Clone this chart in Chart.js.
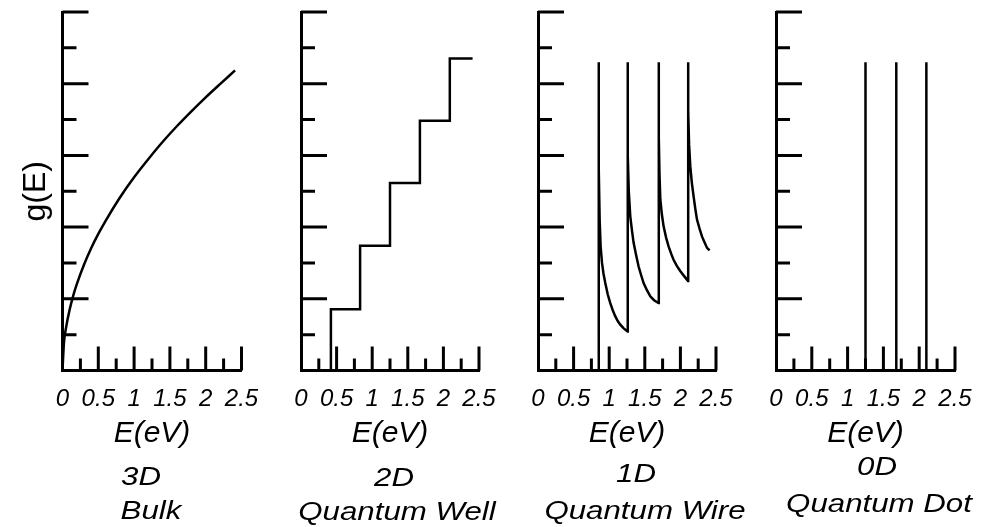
<!DOCTYPE html>
<html lang="en">
<head>
    <meta charset="UTF-8">
    <title>Density of States</title>
    <style>
        body {
            margin: 0;
            background-color: #ffffff;
            overflow: hidden;
        }
        .stage {
            position: relative;
            width: 988px;
            height: 527px;
        }
        .stage canvas {
            position: absolute;
            left: 0;
            top: 0;
        }
        .lbl {
            position: absolute;
            font: italic 25px "Liberation Sans", Arial, sans-serif;
            line-height: 1;
            color: #000;
            white-space: nowrap;
            transform: translate(-50%, -50%) scaleX(1.25);
        }
    </style>
</head>
<body>
    <div class="stage">
        <canvas id="bulk" width="988" height="527"></canvas>
        <canvas id="well" width="988" height="527"></canvas>
        <canvas id="wire" width="988" height="527"></canvas>
        <canvas id="dot" width="988" height="527"></canvas>

        <div class="lbl" style="left:141px;top:476px">3D</div>
        <div class="lbl" style="left:151px;top:510px">Bulk</div>
        <div class="lbl" style="left:394px;top:477px">2D</div>
        <div class="lbl" style="left:397px;top:511px">Quantum Well</div>
        <div class="lbl" style="left:636px;top:473px">1D</div>
        <div class="lbl" style="left:645px;top:510px">Quantum Wire</div>
        <div class="lbl" style="left:877px;top:466px">0D</div>
        <div class="lbl" style="left:879px;top:503px">Quantum Dot</div>
    </div>
    <script src="https://cdn.jsdelivr.net/npm/chart.js"></script>
    <script>
        // axis ticks
        const xLabels = [0, 0.5, 1, 1.5, 2, 2.5];
        const xMajor = [0.5, 1, 1.5, 2, 2.5];
        const xMinor = [0.25, 0.75, 1.25, 1.75, 2.25];
        const yMajor = [2, 4, 6, 8, 10];
        const yMinor = [1, 3, 5, 7, 9];

        // 3D bulk: smooth curve
        const bulkE = [0, 0.02, 0.05, 0.1, 0.15, 0.2, 0.3, 0.4, 0.5, 0.6, 0.8, 1.0, 1.2, 1.4, 1.6, 1.8, 2.0, 2.2, 2.41];
        const bulkG = [0, 0.76, 1.2, 1.7, 2.09, 2.41, 2.95, 3.41, 3.81, 4.17, 4.82, 5.39, 5.9, 6.38, 6.82, 7.23, 7.62, 7.99, 8.37];

        // 2D quantum well: step corners
        const wellE = [0.42, 0.42, 0.83, 1.25, 1.67, 2.09, 2.41];
        const wellG = [0, 1.71, 3.48, 5.23, 6.97, 8.70, 8.70];

        // 1D quantum wire: spikes and decays
        const wireE = [0.851, 0.851, 0.856, 0.866, 0.880, 0.899, 0.92, 0.945, 0.98, 1.015, 1.05, 1.086, 1.12, 1.156, 1.20, 1.258,
                       1.258, 1.263, 1.275, 1.296, 1.32, 1.343, 1.38, 1.413, 1.45, 1.483, 1.53, 1.577, 1.63, 1.694,
                       1.694, 1.699, 1.706, 1.718, 1.74, 1.764, 1.80, 1.834, 1.87, 1.904, 1.95, 2.0, 2.05, 2.107,
                       2.107, 2.112, 2.122, 2.139, 2.16, 2.185, 2.21, 2.233, 2.27, 2.303, 2.34, 2.374, 2.41];
        const wireG = [0, 8.6, 5.6, 4.2, 3.45, 3.0, 2.7, 2.44, 2.12, 1.88, 1.68, 1.51, 1.38, 1.28, 1.18, 1.09,
                       8.6, 6.0, 5.0, 4.3, 3.9, 3.56, 3.2, 2.9, 2.65, 2.44, 2.24, 2.07, 1.96, 1.88,
                       8.6, 6.5, 5.5, 4.77, 4.35, 4.02, 3.7, 3.46, 3.26, 3.09, 2.92, 2.77, 2.64, 2.5,
                       8.6, 7.2, 6.3, 5.7, 5.25, 4.86, 4.5, 4.21, 3.95, 3.74, 3.57, 3.42, 3.35];

        // 0D quantum dot: discrete levels
        const dotE = [1.25, 1.68, 2.10];
        const dotG = [8.6, 8.6, 8.6];

        const W = 988, H = 527;
        const AXIS_TOP = 12, AXIS_BOTTOM = 370.5, X_AXIS_H = 81;
        const FONT = '"Liberation Sans", Arial, sans-serif';

        const pts = (xs, ys) => xs.map((x, i) => ({ x: x, y: ys[i] }));

        const tickMarks = {
            id: 'tickMarks',
            afterDraw(chart) {
                const { ctx, chartArea, scales: { x, y } } = chart;
                ctx.save();
                ctx.strokeStyle = '#000';
                ctx.lineWidth = 3;
                ctx.beginPath();
                xMajor.forEach(v => {
                    const px = x.getPixelForValue(v);
                    ctx.moveTo(px, chartArea.bottom);
                    ctx.lineTo(px, chartArea.bottom - 24);
                });
                xMinor.forEach(v => {
                    const px = x.getPixelForValue(v);
                    ctx.moveTo(px, chartArea.bottom);
                    ctx.lineTo(px, chartArea.bottom - 12);
                });
                yMajor.forEach(v => {
                    const py = y.getPixelForValue(v);
                    ctx.moveTo(chartArea.left, py);
                    ctx.lineTo(chartArea.left + 26, py);
                });
                yMinor.forEach(v => {
                    const py = y.getPixelForValue(v);
                    ctx.moveTo(chartArea.left, py);
                    ctx.lineTo(chartArea.left + 14, py);
                });
                ctx.stroke();
                ctx.restore();
            }
        };

        function makePanel(id, left, right, datasets, yTitle) {
            return new Chart(document.getElementById(id), {
                type: 'line',
                data: { datasets: datasets },
                options: {
                    responsive: false,
                    animation: false,
                    events: [],
                    devicePixelRatio: 1,
                    layout: {
                        padding: {
                            left: yTitle ? 0 : left,
                            right: W - right,
                            top: AXIS_TOP,
                            bottom: H - AXIS_BOTTOM - X_AXIS_H
                        }
                    },
                    plugins: {
                        legend: { display: false },
                        tooltip: { enabled: false }
                    },
                    elements: {
                        point: { radius: 0 },
                        line: { borderColor: '#000', borderWidth: 2.5, tension: 0, fill: false }
                    },
                    scales: {
                        x: {
                            type: 'linear',
                            min: 0,
                            max: 2.5,
                            afterBuildTicks: s => { s.ticks = xLabels.map(v => ({ value: v })); },
                            afterFit: s => { s.height = X_AXIS_H; },
                            grid: { display: false },
                            border: { display: true, color: '#000', width: 3 },
                            ticks: {
                                color: '#000',
                                padding: 6,
                                maxRotation: 0,
                                autoSkip: false,
                                callback: v => String(v),
                                font: { family: FONT, size: 24, style: 'italic' }
                            },
                            title: {
                                display: true,
                                text: 'E(eV)',
                                color: '#000',
                                padding: 0,
                                font: { family: FONT, size: 30, style: 'italic' }
                            }
                        },
                        y: {
                            min: 0,
                            max: 10,
                            afterFit: s => { s.width = yTitle ? left : 0; },
                            grid: { display: false },
                            border: { display: true, color: '#000', width: 3 },
                            ticks: { display: false },
                            title: {
                                display: !!yTitle,
                                text: yTitle || '',
                                color: '#000',
                                padding: { top: 17, bottom: 0 },
                                font: { family: FONT, size: 32 }
                            }
                        }
                    }
                },
                plugins: [tickMarks]
            });
        }

        makePanel('bulk', 62.5, 241.5, [
            { data: pts(bulkE, bulkG), cubicInterpolationMode: 'monotone' }
        ], 'g(E)');

        makePanel('well', 301, 479, [
            { data: pts(wellE, wellG), stepped: true }
        ]);

        makePanel('wire', 538, 716, [
            { data: pts(wireE, wireG) }
        ]);

        makePanel('dot', 776, 955, dotE.map((e, i) => ({
            data: [{ x: e, y: 0 }, { x: e, y: dotG[i] }]
        })));
    </script>
</body>
</html>
